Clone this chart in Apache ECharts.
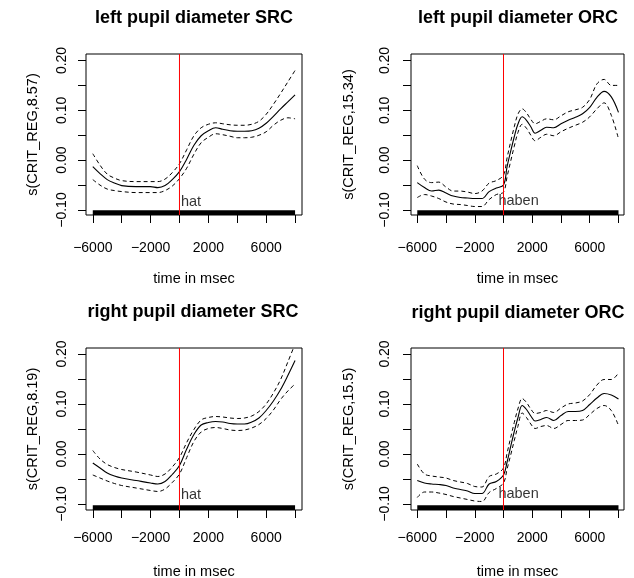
<!DOCTYPE html>
<html><head><meta charset="utf-8">
<script src="https://cdn.jsdelivr.net/npm/echarts@6/dist/echarts.min.js"></script>
<style>html,body{margin:0;padding:0;background:#fff}#c{width:634px;height:578px}</style>
</head><body><div id="c"></div>
<script>
// ---------- data ----------
const timeSRC = [-6000,-5500,-5000,-4500,-4000,-3000,-2000,-1500,-1000,-500,0,500,1000,1500,2000,2500,3000,3500,4000,4500,5000,5500,6000,6500,7000,7500,8000];
const leftSRC_fit   = [-0.013,-0.027,-0.039,-0.046,-0.051,-0.053,-0.053,-0.055,-0.051,-0.039,-0.023,0.002,0.030,0.049,0.059,0.065,0.062,0.059,0.058,0.058,0.059,0.064,0.074,0.088,0.103,0.117,0.131];
const leftSRC_upper = [0.013,-0.010,-0.028,-0.036,-0.041,-0.043,-0.043,-0.043,-0.038,-0.025,-0.007,0.021,0.049,0.065,0.072,0.075,0.073,0.071,0.070,0.070,0.072,0.078,0.092,0.112,0.134,0.157,0.180];
const leftSRC_lower = [-0.039,-0.050,-0.058,-0.061,-0.063,-0.065,-0.065,-0.065,-0.061,-0.052,-0.037,-0.016,0.012,0.035,0.046,0.053,0.051,0.048,0.045,0.045,0.046,0.050,0.057,0.070,0.080,0.085,0.083];
const rightSRC_fit   = [-0.018,-0.028,-0.038,-0.044,-0.048,-0.053,-0.058,-0.060,-0.055,-0.041,-0.023,0.010,0.039,0.058,0.063,0.065,0.064,0.061,0.060,0.060,0.064,0.072,0.087,0.106,0.129,0.157,0.187];
const rightSRC_upper = [0.007,-0.010,-0.021,-0.027,-0.031,-0.036,-0.042,-0.045,-0.040,-0.026,-0.007,0.023,0.049,0.068,0.073,0.075,0.074,0.072,0.071,0.072,0.076,0.085,0.100,0.122,0.149,0.184,0.220];
const rightSRC_lower = [-0.042,-0.048,-0.054,-0.059,-0.063,-0.068,-0.073,-0.075,-0.070,-0.057,-0.040,-0.007,0.025,0.044,0.051,0.053,0.051,0.048,0.047,0.048,0.052,0.059,0.071,0.088,0.109,0.126,0.140];

const timeORC = [-6000,-5500,-5000,-4500,-4000,-3500,-3000,-2500,-2000,-1500,-1000,-500,0,250,500,750,1000,1300,1600,1900,2200,2600,3000,3500,4000,4500,5000,5500,6000,6500,7000,7500,8000];
const leftORC_fit   = [-0.045,-0.055,-0.062,-0.060,-0.066,-0.072,-0.075,-0.076,-0.077,-0.077,-0.063,-0.056,-0.050,-0.013,0.018,0.047,0.072,0.087,0.080,0.067,0.054,0.060,0.066,0.065,0.073,0.080,0.086,0.093,0.106,0.126,0.138,0.127,0.096];
const leftORC_upper = [-0.011,-0.038,-0.045,-0.044,-0.054,-0.062,-0.062,-0.064,-0.067,-0.062,-0.046,-0.041,-0.030,0.005,0.037,0.067,0.092,0.103,0.095,0.082,0.073,0.078,0.083,0.081,0.089,0.097,0.101,0.106,0.122,0.153,0.162,0.150,0.150];
const leftORC_lower = [-0.075,-0.069,-0.072,-0.077,-0.084,-0.088,-0.089,-0.091,-0.093,-0.093,-0.079,-0.069,-0.064,-0.033,-0.002,0.028,0.055,0.072,0.064,0.050,0.039,0.046,0.052,0.049,0.057,0.064,0.070,0.076,0.087,0.103,0.115,0.090,0.043];
const rightORC_fit   = [-0.053,-0.058,-0.060,-0.061,-0.063,-0.068,-0.071,-0.074,-0.079,-0.079,-0.060,-0.055,-0.042,-0.016,0.015,0.045,0.072,0.097,0.089,0.076,0.066,0.069,0.073,0.067,0.077,0.085,0.085,0.087,0.099,0.112,0.121,0.118,0.110];
const rightORC_upper = [-0.020,-0.040,-0.044,-0.046,-0.048,-0.053,-0.056,-0.059,-0.065,-0.066,-0.045,-0.040,-0.028,0.002,0.033,0.063,0.090,0.111,0.103,0.090,0.081,0.083,0.087,0.083,0.092,0.100,0.102,0.106,0.119,0.138,0.149,0.149,0.162];
const rightORC_lower = [-0.087,-0.076,-0.076,-0.078,-0.081,-0.085,-0.088,-0.091,-0.094,-0.095,-0.077,-0.069,-0.058,-0.030,-0.002,0.027,0.055,0.082,0.073,0.060,0.051,0.055,0.057,0.051,0.059,0.067,0.067,0.068,0.079,0.091,0.097,0.087,0.057];

const titles = ['left pupil diameter SRC','left pupil diameter ORC','right pupil diameter SRC','right pupil diameter ORC'];
const yNames = ['s(CRIT_REG,8.57)','s(CRIT_REG,15.34)','s(CRIT_REG,8.19)','s(CRIT_REG,15.5)'];
const xName = 'time in msec';
const wordLabels = ['hat','haben','hat','haben'];
const wordLabelX = [100,-355,100,-355];
const wordLabelY = [-0.0835,-0.082,-0.081,-0.080];
const onsetTime = 0;
const rugRange = [-6000, 8000];
const xTicks = [-6000,-4000,-2000,0,2000,4000,6000,8000];
const xTickLabels = [-6000,-2000,2000,6000];
const yTicks = [-0.10,-0.05,0,0.05,0.10,0.15,0.20];
const yTickLabels = [-0.10,0,0.10,0.20];

// ---------- layout ----------
const layout = [
  {grid:{left:86, top:54, width:216, height:161}, x:[-6470,8480], y:[-0.110,0.213], tx:194, ty:18, yNameGap:46, yLabelMargin:17, xLabelMargin:26, xNameGap:56},
  {grid:{left:411,top:54, width:213, height:161}, x:[-6436,8384], y:[-0.110,0.213], tx:518, ty:18, yNameGap:55, yLabelMargin:19, xLabelMargin:26, xNameGap:56},
  {grid:{left:86, top:348,width:216, height:162}, x:[-6470,8480], y:[-0.112,0.212], tx:193, ty:312, yNameGap:46, yLabelMargin:17, xLabelMargin:21, xNameGap:54},
  {grid:{left:411,top:348,width:213, height:162}, x:[-6436,8384], y:[-0.112,0.212], tx:518, ty:313, yNameGap:55, yLabelMargin:19, xLabelMargin:21, xNameGap:54}
];
const panelData = [
  {t:timeSRC, fit:leftSRC_fit,  up:leftSRC_upper,  lo:leftSRC_lower},
  {t:timeORC, fit:leftORC_fit,  up:leftORC_upper,  lo:leftORC_lower},
  {t:timeSRC, fit:rightSRC_fit, up:rightSRC_upper, lo:rightSRC_lower},
  {t:timeORC, fit:rightORC_fit, up:rightORC_upper, lo:rightORC_lower}
];

const FONT = 'Liberation Sans, Arial, Helvetica, sans-serif';
const fmtNum = v => { if (Math.abs(v) < 1e-9) v = 0; return String(v).replace('-', '\u2212'); };
const fmtY = v => { if (Math.abs(v) < 1e-9) v = 0; return v.toFixed(2).replace('-', '\u2212'); };
const zip = (a, b) => a.map((x, i) => [x, b[i]]);

const grids = [], xAxes = [], yAxes = [], series = [], graphics = [];
layout.forEach((L, i) => {
  const D = panelData[i];
  grids.push(Object.assign({show:true, borderColor:'#000', borderWidth:1, backgroundColor:'transparent', containLabel:false, outerBoundsMode:'none'}, L.grid));
  xAxes.push({
    type:'value', gridIndex:i, min:L.x[0], max:L.x[1], position:'bottom',
    name:xName, nameLocation:'middle', nameGap:L.xNameGap,
    nameTextStyle:{fontFamily:FONT, fontSize:14.5, color:'#000'},
    axisLine:{show:false, onZero:false}, splitLine:{show:false},
    axisTick:{show:true, inside:false, length:8, customValues:xTicks, lineStyle:{color:'#000', width:1}},
    axisLabel:{show:true, customValues:xTickLabels, margin:L.xLabelMargin, fontFamily:FONT, fontSize:14, color:'#000', formatter:fmtNum}
  });
  yAxes.push({
    type:'value', gridIndex:i, min:L.y[0], max:L.y[1], position:'left',
    name:yNames[i], nameLocation:'middle', nameGap:L.yNameGap, nameRotate:90,
    nameTextStyle:{fontFamily:FONT, fontSize:14.5, color:'#000'},
    axisLine:{show:false, onZero:false}, splitLine:{show:false},
    axisTick:{show:true, inside:false, length:8, customValues:yTicks, lineStyle:{color:'#000', width:1}},
    axisLabel:{show:true, customValues:yTickLabels, rotate:90, margin:L.yLabelMargin, fontFamily:FONT, fontSize:14, color:'#000', formatter:fmtY}
  });
  const rugTop = L.y[0] + 0.03 * (L.y[1] - L.y[0]);
  // bands
  [D.up, D.lo].forEach(b => series.push({
    type:'line', xAxisIndex:i, yAxisIndex:i, data:zip(D.t, b), showSymbol:false, symbol:'none',
    smooth:0.35, silent:true, z:3, clip:true,
    lineStyle:{color:'#000', width:1, type:[4,3]}
  }));
  // fit, with rug
  series.push({
    type:'line', xAxisIndex:i, yAxisIndex:i, data:zip(D.t, D.fit), showSymbol:false, symbol:'none',
    smooth:0.35, silent:true, z:3, clip:true,
    itemStyle:{color:'#000'},
    lineStyle:{color:'#000', width:1.1},
    markArea:{silent:true, itemStyle:{color:'#000', opacity:1, borderWidth:0},
      data:[[{xAxis:rugRange[0], yAxis:L.y[0]}, {xAxis:rugRange[1], yAxis:rugTop}]]}
  });
  // onset line (red vertical at word onset)
  series.push({
    type:'line', xAxisIndex:i, yAxisIndex:i, data:[[onsetTime, L.y[0]], [onsetTime, L.y[1]]],
    showSymbol:false, symbol:'none', silent:true, z:8, clip:true,
    itemStyle:{color:'#ff0000'},
    lineStyle:{color:'#ff0000', width:1, type:'solid'}
  });
  // word label
  series.push({
    type:'scatter', xAxisIndex:i, yAxisIndex:i, data:[[wordLabelX[i], wordLabelY[i]]],
    symbolSize:0, silent:true, z:6,
    label:{show:true, formatter:wordLabels[i], position:'right', distance:0, fontFamily:FONT, fontSize:14.5, color:'#000'}
  });
  graphics.push({type:'text', x:L.tx, y:L.ty, silent:true,
    style:{text:titles[i], font:'bold 18px ' + FONT, fill:'#000', align:'center', verticalAlign:'middle'}});
});

const chart = echarts.init(document.getElementById('c'), null, {renderer:'canvas'});
chart.setOption({
  animation:false, backgroundColor:'#fff',
  grid:grids, xAxis:xAxes, yAxis:yAxes, series:series, graphic:graphics
});
</script></body></html>
